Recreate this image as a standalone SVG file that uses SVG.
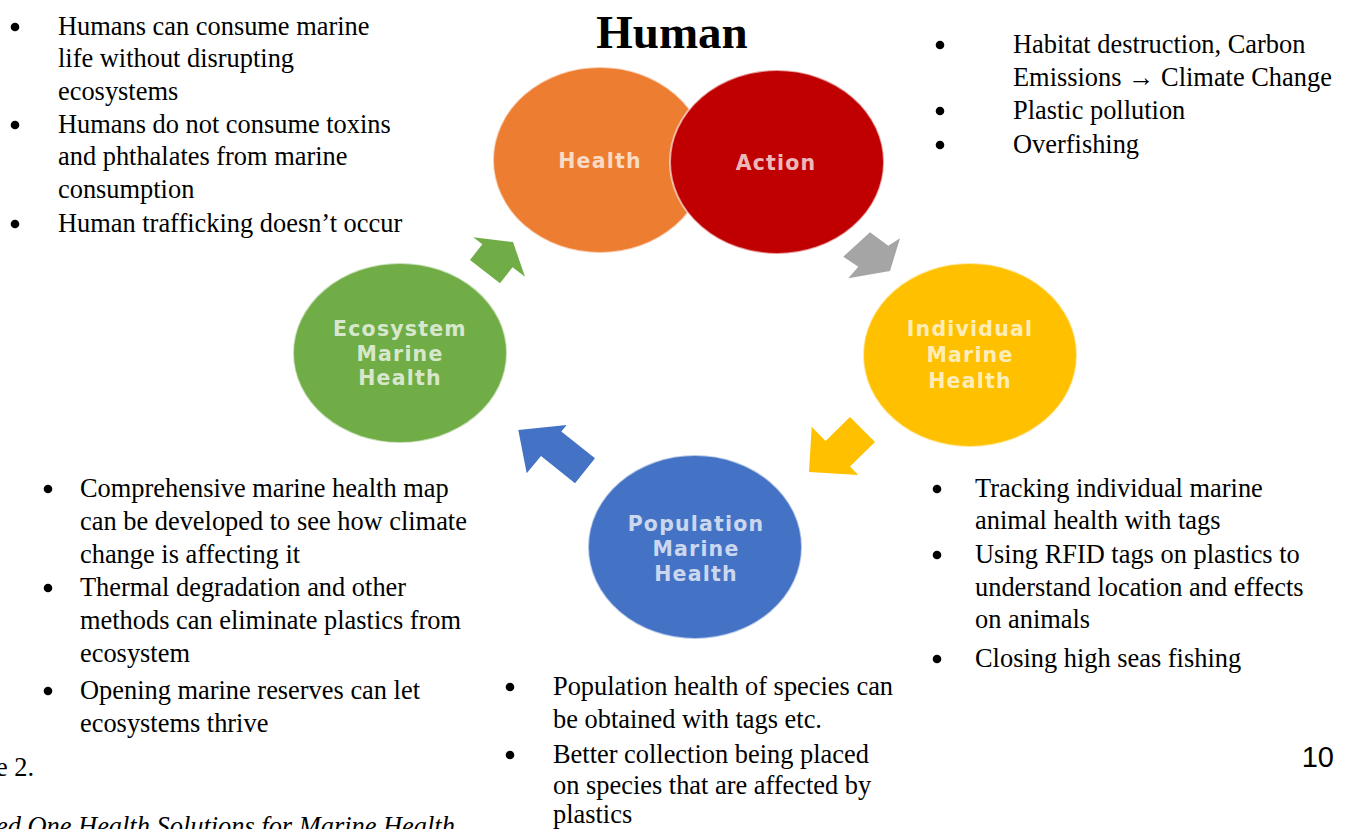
<svg xmlns="http://www.w3.org/2000/svg" width="1345" height="829" viewBox="0 0 1345 829">
<style>
.t{font-family:"Liberation Serif","Times New Roman",serif;font-size:26.4px;fill:#000}
.lbl{font-family:"DejaVu Sans",sans-serif;font-weight:bold;font-size:20.5px;letter-spacing:1.2px;fill:#fff;fill-opacity:0.74;text-anchor:middle}
.node{stroke:#fff;stroke-opacity:0.6;stroke-width:2}
</style>
<rect width="1345" height="829" fill="#fff"/>

<g id="connectors">
<polygon fill="#A5A5A5" points="843.3,256.7 870,232.3 888.3,245.7 900,238.3 890,271 848.3,278.3 858.3,266.7"/>
<polygon fill="#FFC000" points="850,417 875,442 850,466.5 858.3,475 809,472 811.7,426.7 825.6,441.1"/>
<polygon fill="#4472C4" points="595,458.3 561.3,431.4 566.7,425 518.3,430 526.7,473.3 541,456 575,483.3"/>
<polygon fill="#70AD47" points="470,260 482.3,244.2 473.3,237.3 513,242 525,276.7 512.5,267.2 500,283.3"/>
</g>

<g id="node-health">
<ellipse class="node" cx="600" cy="160" rx="107" ry="93" fill="#ED7D31"/>
<text class="lbl" x="600" y="168">Health</text>
</g>
<g id="node-action">
<ellipse class="node" cx="777" cy="162" rx="107" ry="92" fill="#C00000"/>
<text class="lbl" x="776" y="170">Action</text>
</g>
<g id="node-individual">
<ellipse class="node" cx="970" cy="355" rx="107" ry="92" fill="#FFC000"/>
<text class="lbl" x="970" y="336">Individual</text>
<text class="lbl" x="970" y="362">Marine</text>
<text class="lbl" x="970" y="388">Health</text>
</g>
<g id="node-population">
<ellipse class="node" cx="695" cy="547" rx="107" ry="92" fill="#4472C4"/>
<text class="lbl" x="696" y="531">Population</text>
<text class="lbl" x="696" y="556">Marine</text>
<text class="lbl" x="696" y="581">Health</text>
</g>
<g id="node-ecosystem">
<ellipse class="node" cx="400" cy="353" rx="107" ry="90" fill="#70AD47"/>
<text class="lbl" x="400" y="336">Ecosystem</text>
<text class="lbl" x="400" y="361">Marine</text>
<text class="lbl" x="400" y="385">Health</text>
</g>

<g id="title">
<text x="672" y="48" text-anchor="middle" style="font-family:'Liberation Serif',serif;font-weight:bold;font-size:47px">Human</text>
</g>

<g id="notes-top-left">
<circle cx="15" cy="27" r="4.3"/>
<text class="t" x="58" y="35">Humans can consume marine</text>
<text class="t" x="58" y="67">life without disrupting</text>
<text class="t" x="58" y="100">ecosystems</text>
<circle cx="15" cy="125" r="4.3"/>
<text class="t" x="58" y="133">Humans do not consume toxins</text>
<text class="t" x="58" y="165">and phthalates from marine</text>
<text class="t" x="58" y="198">consumption</text>
<circle cx="15" cy="224" r="4.3"/>
<text class="t" x="58" y="232">Human trafficking doesn’t occur</text>
</g>

<g id="notes-top-right">
<circle cx="940" cy="45" r="4.3"/>
<text class="t" x="1013" y="53">Habitat destruction, Carbon</text>
<text class="t" x="1013" y="86">Emissions → Climate Change</text>
<circle cx="940" cy="111" r="4.3"/>
<text class="t" x="1013" y="119">Plastic pollution</text>
<circle cx="940" cy="145" r="4.3"/>
<text class="t" x="1013" y="153">Overfishing</text>
</g>

<g id="notes-bottom-left">
<circle cx="48" cy="489" r="4.3"/>
<text class="t" x="80" y="497">Comprehensive marine health map</text>
<text class="t" x="80" y="530">can be developed to see how climate</text>
<text class="t" x="80" y="563">change is affecting it</text>
<circle cx="48" cy="588" r="4.3"/>
<text class="t" x="80" y="596">Thermal degradation and other</text>
<text class="t" x="80" y="629">methods can eliminate plastics from</text>
<text class="t" x="80" y="662">ecosystem</text>
<circle cx="48" cy="691" r="4.3"/>
<text class="t" x="80" y="699">Opening marine reserves can let</text>
<text class="t" x="80" y="732">ecosystems thrive</text>
</g>

<g id="notes-bottom-center">
<circle cx="510" cy="687" r="4.3"/>
<text class="t" x="553" y="695">Population health of species can</text>
<text class="t" x="553" y="728">be obtained with tags etc.</text>
<circle cx="510" cy="755" r="4.3"/>
<text class="t" x="553" y="763">Better collection being placed</text>
<text class="t" x="553" y="794">on species that are affected by</text>
<text class="t" x="553" y="823">plastics</text>
</g>

<g id="notes-bottom-right">
<circle cx="937" cy="489" r="4.3"/>
<text class="t" x="975" y="497">Tracking individual marine</text>
<text class="t" x="975" y="529">animal health with tags</text>
<circle cx="937" cy="555" r="4.3"/>
<text class="t" x="975" y="563">Using RFID tags on plastics to</text>
<text class="t" x="975" y="596">understand location and effects</text>
<text class="t" x="975" y="628">on animals</text>
<circle cx="937" cy="659" r="4.3"/>
<text class="t" x="975" y="667">Closing high seas fishing</text>
</g>

<g id="page-text">
<text class="t" x="-4" y="776">e 2.</text>
<text class="t" x="-4" y="835" style="font-style:italic">ed One Health Solutions for Marine Health</text>
<text x="1334" y="767" text-anchor="end" style="font-family:'Liberation Sans',Arial,sans-serif;font-size:29px">10</text>
</g>
</svg>
